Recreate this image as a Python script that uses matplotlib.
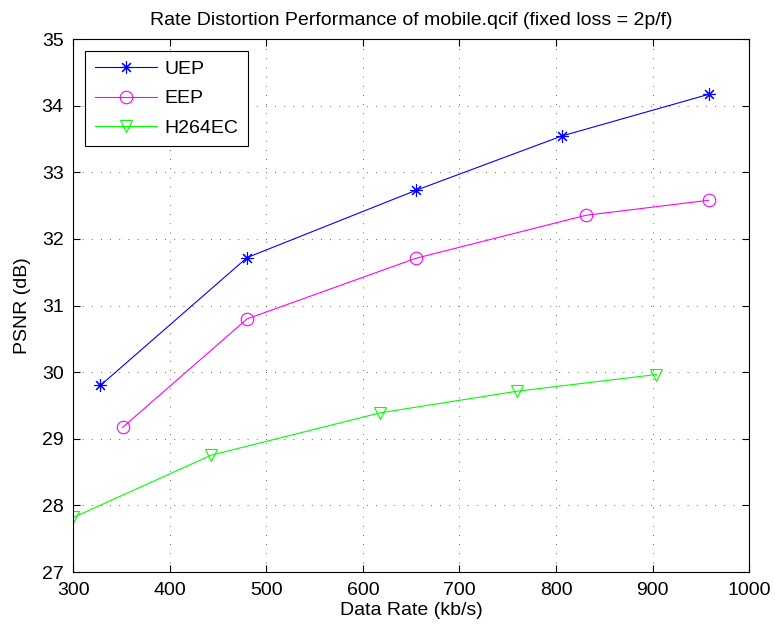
import matplotlib
matplotlib.use("Agg")
import matplotlib.pyplot as plt

plt.rcParams['font.family'] = ['Liberation Sans', 'DejaVu Sans']

# rate (kb/s) vs PSNR (dB) for each scheme
uep_rate = [328, 480, 655, 806, 958]
uep_psnr = [29.80, 31.72, 32.73, 33.545, 34.17]
eep_rate = [351, 480, 655, 831, 958]
eep_psnr = [29.17, 30.80, 31.71, 32.355, 32.58]
h264_rate = [300, 443, 618, 760, 904]
h264_psnr = [27.82, 28.755, 29.39, 29.715, 29.965]

fig = plt.figure(figsize=(7.75, 6.3), dpi=100, facecolor='white')
ax = fig.add_axes([0.0946, 0.092, 0.872, 0.846])

# asterisk = plus + cross, drawn as an 8-arm line marker
ax.plot(uep_rate, uep_psnr, color='#0000ff', marker=(8, 2, 0), markersize=9,
        markeredgewidth=0.8, linewidth=0.8, label='UEP')
ax.plot(eep_rate, eep_psnr, color='#ff00ff', marker='o', markersize=9,
        markerfacecolor='none', markeredgewidth=0.8, linewidth=0.8, label='EEP')
ax.plot(h264_rate, h264_psnr, color='#00ff00', marker='v', markersize=9,
        markerfacecolor='none', markeredgewidth=0.8, linewidth=0.8, label='H264EC')

ax.set_xlim(300, 1000)
ax.set_ylim(27, 35)
ax.set_xticks(range(300, 1001, 100))
ax.set_yticks(range(27, 36))
ax.grid(True, color='#333333', linestyle=(0, (1, 10)), linewidth=0.6)
ax.tick_params(direction='in', top=True, right=True, labelsize=14, length=5, pad=7)
for s in ax.spines.values():
    s.set_linewidth(0.8)

ax.set_xlabel('Data Rate (kb/s)', fontsize=14, labelpad=2)
ax.set_ylabel('PSNR (dB)', fontsize=14, labelpad=8)
ax.set_title('Rate Distortion Performance of mobile.qcif (fixed loss = 2p/f)',
             fontsize=14, pad=10)

leg = ax.legend(loc='upper left', fontsize=14, fancybox=False, framealpha=1,
                edgecolor='black', borderaxespad=0.6, handlelength=3.2,
                labelspacing=0.6, borderpad=0.5, handletextpad=0.4)
leg.get_frame().set_linewidth(0.8)

fig.savefig('out.png', dpi=100)
